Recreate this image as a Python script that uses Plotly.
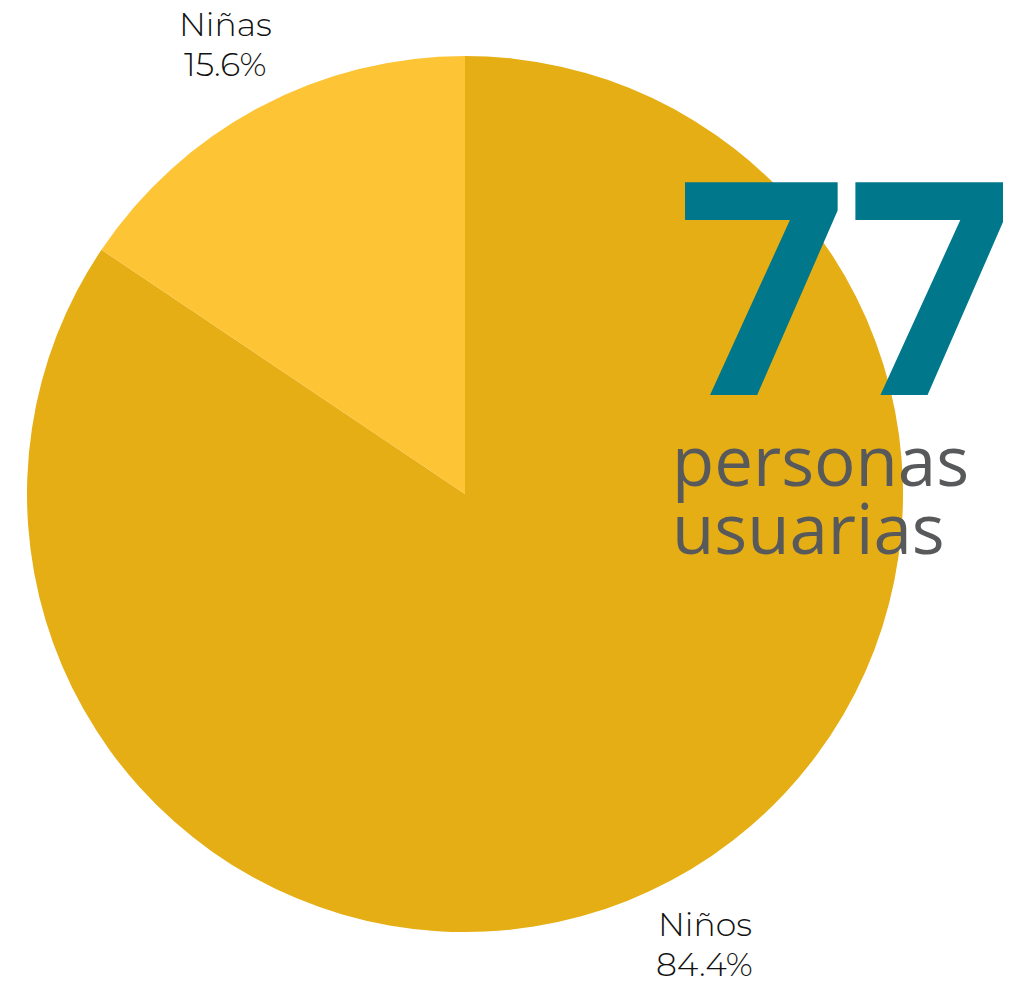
import math
import plotly.graph_objects as go

categories = ["Niños", "Niñas"]
values = [65, 12]
colors = ["#E6AE15", "#FDC436"]
total_label = "77"
subtitle_lines = ["personas", "usuarias"]

W, H = 1011, 981
CX, CY, R = 457, 486, 438  # pie centre (figure px from top-left) and radius
LABEL_R = 510

fig = go.Figure(go.Pie(
    labels=categories,
    values=values,
    sort=False,
    direction="clockwise",
    rotation=0,
    marker=dict(colors=colors, line=dict(width=0)),
    textinfo="none",
    hoverinfo="label+percent",
    showlegend=False,
    domain=dict(x=[(CX - R) / W, (CX + R) / W], y=[1 - (CY + R) / H, 1 - (CY - R) / H]),
))

# outside labels at slice mid-angles
total = sum(values)
cum = 0
label_font = dict(family="Montserrat, Lato, sans-serif", size=33, color="#111111", weight=300)
for cat, v in zip(categories, values):
    mid = (cum + v / 2) / total * 2 * math.pi
    cum += v
    lx = CX + LABEL_R * math.sin(mid)
    ly = CY - LABEL_R * math.cos(mid)
    pct = f"{v / total * 100:.1f}%"
    for j, t in enumerate([cat, pct]):
        fig.add_annotation(
            text=t, x=lx, y=H - (ly - 20 + 40 * j), xref="x", yref="y",
            xanchor="center", yanchor="middle", showarrow=False,
            font=label_font,
        )

fig.add_annotation(
    text=f"<b>{total_label}</b>", x=667, y=H - 397, xref="x", yref="y",
    xanchor="left", yanchor="bottom", showarrow=False,
    font=dict(family="Open Sans", size=298, color="#00778B"),
    yshift=-79,
)
for i, line in enumerate(subtitle_lines):
    fig.add_annotation(
        text=line, x=662, y=H - 489 - 68 * i, xref="x", yref="y",
        xanchor="left", yanchor="bottom", showarrow=False,
        font=dict(family="Open Sans", size=69, color="#58595B"),
        yshift=-11,
    )

fig.update_layout(
    width=W, height=H,
    margin=dict(l=0, r=0, t=0, b=0),
    paper_bgcolor="white", plot_bgcolor="rgba(0,0,0,0)",
    xaxis=dict(range=[0, W], visible=False, fixedrange=True),
    yaxis=dict(range=[0, H], visible=False, fixedrange=True),
)

fig.write_html("out.html")
